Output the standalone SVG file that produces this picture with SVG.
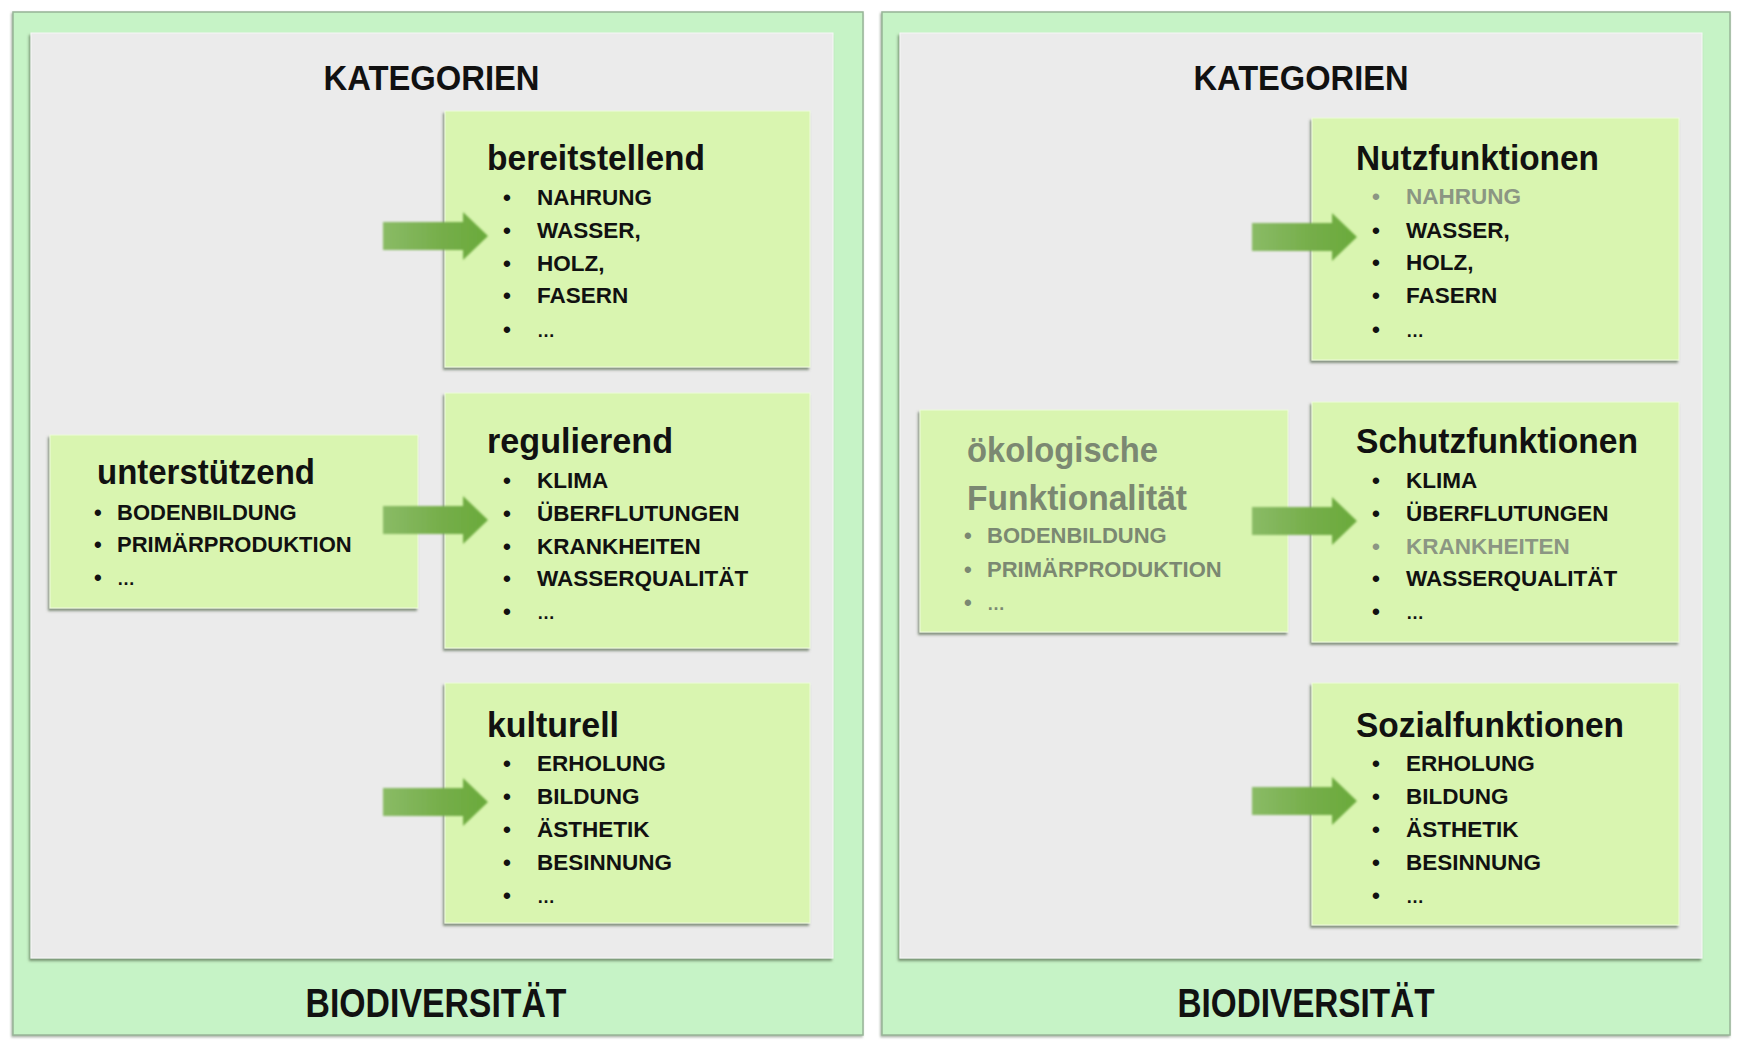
<svg xmlns="http://www.w3.org/2000/svg" width="1746" height="1042" viewBox="0 0 1746 1042">
<defs>
<style>
text{font-family:"Liberation Sans",Arial,sans-serif;font-weight:bold;fill:#111}
.head{font-size:35px;text-anchor:middle}
.bio{font-size:40px;text-anchor:middle}
.title{font-size:35px}
.item{font-size:22.5px}
.itemS{font-size:22px}
.ell{font-size:18px}
.gray{fill:#8b9683}
.eco{fill:#7b8872}
.outer{fill:#c6f3c6;stroke:#97b497;stroke-width:1.5}
.inner{fill:#ebebeb;stroke:#f7f7f7;stroke-width:1}
.box{fill:#d9f5b0;stroke:#eefbdc;stroke-width:1}
.arrow{fill:url(#ag);filter:url(#soft)}
</style>
<filter id="sh" x="-5%" y="-5%" width="110%" height="110%">
<feDropShadow dx="-1.5" dy="2.5" stdDeviation="1.2" flood-color="#4d5e45" flood-opacity="0.65"/>
</filter>
<filter id="shO" x="-5%" y="-5%" width="110%" height="110%">
<feDropShadow dx="-1" dy="1.5" stdDeviation="1.2" flood-color="#6c7c68" flood-opacity="0.6"/>
</filter>
<filter id="soft" x="-10%" y="-10%" width="120%" height="120%">
<feGaussianBlur stdDeviation="1.2"/>
</filter>
<linearGradient id="ag" x1="0" y1="0" x2="1" y2="0">
<stop offset="0" stop-color="#8abb66"/>
<stop offset="0.6" stop-color="#74ad48"/>
<stop offset="1" stop-color="#6aab3b"/>
</linearGradient>
<path id="arr" d="M0,-14 H80 V-24 L105,0 L80,24 V14 H0 Z"/>
</defs>

<g id="panel-left">
<rect class="outer" x="13" y="12" width="850" height="1023" filter="url(#shO)"/>
<rect class="inner" x="31" y="33" width="802" height="925" filter="url(#sh)"/>
<text class="head" x="431.5" y="90" textLength="216" lengthAdjust="spacingAndGlyphs">KATEGORIEN</text>
<text class="bio" x="436" y="1017" textLength="261" lengthAdjust="spacingAndGlyphs">BIODIVERSITÄT</text>
</g>

<g id="panel-right">
<rect class="outer" x="882" y="12" width="848" height="1023" filter="url(#shO)"/>
<rect class="inner" x="900" y="33" width="802" height="925" filter="url(#sh)"/>
<text class="head" x="1301" y="90" textLength="215" lengthAdjust="spacingAndGlyphs">KATEGORIEN</text>
<text class="bio" x="1306" y="1017" textLength="257" lengthAdjust="spacingAndGlyphs">BIODIVERSITÄT</text>
</g>

<g id="node-bereitstellend">
<rect class="box" x="445" y="111" width="365" height="256" filter="url(#sh)"/>
<text class="title" x="487" y="170" textLength="218" lengthAdjust="spacingAndGlyphs">bereitstellend</text>
<text class="item" x="503" y="205">•</text><text class="item" x="537" y="205">NAHRUNG</text>
<text class="item" x="503" y="238">•</text><text class="item" x="537" y="238">WASSER,</text>
<text class="item" x="503" y="271">•</text><text class="item" x="537" y="271">HOLZ,</text>
<text class="item" x="503" y="303">•</text><text class="item" x="537" y="303">FASERN</text>
<text class="item" x="503" y="337">•</text><text class="ell" x="537" y="337">…</text>
</g>

<g id="node-regulierend">
<rect class="box" x="445" y="393" width="365" height="255" filter="url(#sh)"/>
<text class="title" x="487" y="453" textLength="186" lengthAdjust="spacingAndGlyphs">regulierend</text>
<text class="item" x="503" y="488">•</text><text class="item" x="537" y="488">KLIMA</text>
<text class="item" x="503" y="521">•</text><text class="item" x="537" y="521">ÜBERFLUTUNGEN</text>
<text class="item" x="503" y="554">•</text><text class="item" x="537" y="554">KRANKHEITEN</text>
<text class="item" x="503" y="586">•</text><text class="item" x="537" y="586">WASSERQUALITÄT</text>
<text class="item" x="503" y="619">•</text><text class="ell" x="537" y="619">…</text>
</g>

<g id="node-kulturell">
<rect class="box" x="445" y="683" width="365" height="240" filter="url(#sh)"/>
<text class="title" x="487" y="737" textLength="132" lengthAdjust="spacingAndGlyphs">kulturell</text>
<text class="item" x="503" y="771">•</text><text class="item" x="537" y="771">ERHOLUNG</text>
<text class="item" x="503" y="804">•</text><text class="item" x="537" y="804">BILDUNG</text>
<text class="item" x="503" y="837">•</text><text class="item" x="537" y="837">ÄSTHETIK</text>
<text class="item" x="503" y="870">•</text><text class="item" x="537" y="870">BESINNUNG</text>
<text class="item" x="503" y="903">•</text><text class="ell" x="537" y="903">…</text>
</g>

<g id="node-unterstuetzend">
<rect class="box" x="50" y="435" width="368" height="173" filter="url(#sh)"/>
<text class="title" x="97" y="484" textLength="218" lengthAdjust="spacingAndGlyphs">unterstützend</text>
<text class="itemS" x="94" y="520">•</text><text class="itemS" x="117" y="520">BODENBILDUNG</text>
<text class="itemS" x="94" y="552">•</text><text class="itemS" x="117" y="552">PRIMÄRPRODUKTION</text>
<text class="itemS" x="94" y="585">•</text><text class="ell" x="117" y="585">…</text>
</g>

<g id="node-nutzfunktionen">
<rect class="box" x="1312" y="118" width="367" height="242" filter="url(#sh)"/>
<text class="title" x="1356" y="170" textLength="243" lengthAdjust="spacingAndGlyphs">Nutzfunktionen</text>
<text class="item gray" x="1372" y="204">•</text><text class="item gray" x="1406" y="204">NAHRUNG</text>
<text class="item" x="1372" y="238">•</text><text class="item" x="1406" y="238">WASSER,</text>
<text class="item" x="1372" y="270">•</text><text class="item" x="1406" y="270">HOLZ,</text>
<text class="item" x="1372" y="303">•</text><text class="item" x="1406" y="303">FASERN</text>
<text class="item" x="1372" y="337">•</text><text class="ell" x="1406" y="337">…</text>
</g>

<g id="node-schutzfunktionen">
<rect class="box" x="1312" y="402" width="367" height="240" filter="url(#sh)"/>
<text class="title" x="1356" y="453" textLength="282" lengthAdjust="spacingAndGlyphs">Schutzfunktionen</text>
<text class="item" x="1372" y="488">•</text><text class="item" x="1406" y="488">KLIMA</text>
<text class="item" x="1372" y="521">•</text><text class="item" x="1406" y="521">ÜBERFLUTUNGEN</text>
<text class="item gray" x="1372" y="554">•</text><text class="item gray" x="1406" y="554">KRANKHEITEN</text>
<text class="item" x="1372" y="586">•</text><text class="item" x="1406" y="586">WASSERQUALITÄT</text>
<text class="item" x="1372" y="619">•</text><text class="ell" x="1406" y="619">…</text>
</g>

<g id="node-sozialfunktionen">
<rect class="box" x="1312" y="683" width="367" height="242" filter="url(#sh)"/>
<text class="title" x="1356" y="737" textLength="268" lengthAdjust="spacingAndGlyphs">Sozialfunktionen</text>
<text class="item" x="1372" y="771">•</text><text class="item" x="1406" y="771">ERHOLUNG</text>
<text class="item" x="1372" y="804">•</text><text class="item" x="1406" y="804">BILDUNG</text>
<text class="item" x="1372" y="837">•</text><text class="item" x="1406" y="837">ÄSTHETIK</text>
<text class="item" x="1372" y="870">•</text><text class="item" x="1406" y="870">BESINNUNG</text>
<text class="item" x="1372" y="903">•</text><text class="ell" x="1406" y="903">…</text>
</g>

<g id="node-oekologische-funktionalitaet">
<rect class="box" x="920" y="410" width="368" height="222" filter="url(#sh)"/>
<text class="title eco" x="967" y="462" textLength="191" lengthAdjust="spacingAndGlyphs">ökologische</text>
<text class="title eco" x="967" y="510" textLength="220" lengthAdjust="spacingAndGlyphs">Funktionalität</text>
<text class="itemS eco" x="964" y="543">•</text><text class="itemS eco" x="987" y="543">BODENBILDUNG</text>
<text class="itemS eco" x="964" y="577">•</text><text class="itemS eco" x="987" y="577">PRIMÄRPRODUKTION</text>
<text class="itemS eco" x="964" y="610">•</text><text class="ell eco" x="987" y="610">…</text>
</g>

<g id="connectors">
<use href="#arr" class="arrow" transform="translate(383,236)"/>
<use href="#arr" class="arrow" transform="translate(383,520)"/>
<use href="#arr" class="arrow" transform="translate(383,802)"/>
<use href="#arr" class="arrow" transform="translate(1252,237)"/>
<use href="#arr" class="arrow" transform="translate(1252,521)"/>
<use href="#arr" class="arrow" transform="translate(1252,801)"/>
</g>
</svg>
